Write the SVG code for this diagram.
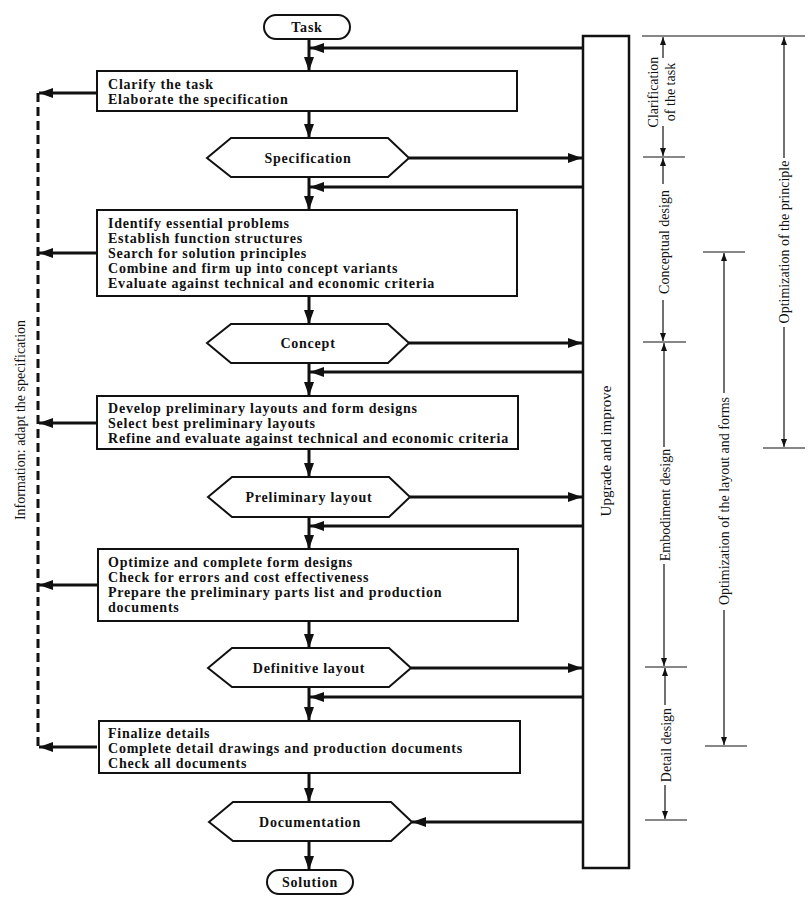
<svg xmlns="http://www.w3.org/2000/svg" width="810" height="900" viewBox="0 0 810 900">
<defs>
<marker id="ah" markerUnits="userSpaceOnUse" markerWidth="15" markerHeight="10" refX="14" refY="5" orient="auto"><path d="M0,0 L14,5 L0,10 z" fill="#111"/></marker>
<marker id="sh" markerUnits="userSpaceOnUse" markerWidth="9" markerHeight="7" refX="8" refY="3" orient="auto"><path d="M0,0 L8,3 L0,6 z" fill="#111"/></marker>
<style>
.box{fill:#fff;stroke:#111;stroke-width:2}
.t{font-family:"Liberation Serif",serif;font-size:14px;letter-spacing:0.78px;font-weight:bold;fill:#111}
.c{text-anchor:middle}
.lbl{font-family:"Liberation Serif",serif;font-size:14px;fill:#111;text-anchor:middle;dominant-baseline:central}
.fl{stroke:#111;stroke-width:3;fill:none}
.fa{stroke:#111;stroke-width:3;fill:none;marker-end:url(#ah)}
.dim{stroke:#111;stroke-width:1.2;fill:none}
.da{stroke:#111;stroke-width:1.2;fill:none;marker-end:url(#sh)}
</style>
</defs>
<rect width="810" height="900" fill="#fff"/>

<g id="connectors">
<!-- main downward flow -->
<line class="fa" x1="309" y1="39" x2="309" y2="71"/>
<line class="fa" x1="309" y1="111" x2="309" y2="138"/>
<line class="fa" x1="309" y1="177" x2="309" y2="210"/>
<line class="fa" x1="309" y1="296" x2="309" y2="324"/>
<line class="fa" x1="309" y1="363" x2="309" y2="396"/>
<line class="fa" x1="309" y1="449" x2="309" y2="477"/>
<line class="fa" x1="309" y1="517" x2="309" y2="549"/>
<line class="fa" x1="309" y1="621" x2="309" y2="648"/>
<line class="fa" x1="309" y1="687" x2="309" y2="721"/>
<line class="fa" x1="309" y1="773" x2="309" y2="802"/>
<line class="fa" x1="309" y1="841" x2="309" y2="870"/>
<!-- feedback from upgrade box -->
<line class="fa" x1="583" y1="48" x2="310" y2="48"/>
<line class="fa" x1="583" y1="187" x2="310" y2="187"/>
<line class="fa" x1="583" y1="372" x2="310" y2="372"/>
<line class="fa" x1="583" y1="526" x2="310" y2="526"/>
<line class="fa" x1="583" y1="697" x2="310" y2="697"/>
<line class="fa" x1="583" y1="822" x2="412" y2="822"/>
<!-- results to upgrade box -->
<line class="fa" x1="409" y1="158" x2="582" y2="158"/>
<line class="fa" x1="409" y1="343" x2="582" y2="343"/>
<line class="fa" x1="410" y1="497" x2="582" y2="497"/>
<line class="fa" x1="411" y1="668" x2="582" y2="668"/>
<!-- information feedback -->
<line x1="38" y1="93" x2="38" y2="747" stroke="#111" stroke-width="3" stroke-dasharray="9,5"/>
<line class="fa" x1="97" y1="93" x2="39" y2="93"/>
<line class="fa" x1="97" y1="253" x2="39" y2="253"/>
<line class="fa" x1="97" y1="423" x2="39" y2="423"/>
<line class="fa" x1="97" y1="585" x2="39" y2="585"/>
<line class="fa" x1="97" y1="747" x2="39" y2="747"/>
</g>

<g id="task">
<rect class="box" x="264" y="15" width="86" height="24" rx="12"/>
<text class="t c" x="307" y="32">Task</text>
</g>

<g id="clarify">
<rect class="box" x="97" y="71" width="420" height="40"/>
<text class="t" x="108" y="89">Clarify the task</text>
<text class="t" x="108" y="104">Elaborate the specification</text>
</g>

<g id="specification">
<polygon class="box" points="207,158 231,138 388,138 409,158 388,177 231,177"/>
<text class="t c" x="308" y="163">Specification</text>
</g>

<g id="conceptual">
<rect class="box" x="97" y="210" width="420" height="86"/>
<text class="t" x="108" y="228">Identify essential problems</text>
<text class="t" x="108" y="243">Establish function structures</text>
<text class="t" x="108" y="258">Search for solution principles</text>
<text class="t" x="108" y="273">Combine and firm up into concept variants</text>
<text class="t" x="108" y="288">Evaluate against technical and economic criteria</text>
</g>

<g id="concept">
<polygon class="box" points="207,343 231,324 388,324 409,343 388,363 231,363"/>
<text class="t c" x="308" y="348">Concept</text>
</g>

<g id="prelim-work">
<rect class="box" x="97" y="396" width="421" height="53"/>
<text class="t" x="108" y="413">Develop preliminary layouts and form designs</text>
<text class="t" x="108" y="428">Select best preliminary layouts</text>
<text class="t" x="108" y="443">Refine and evaluate against technical and economic criteria</text>
</g>

<g id="prelim-layout">
<polygon class="box" points="208,497 232,477 389,477 410,497 389,517 232,517"/>
<text class="t c" x="309" y="502">Preliminary layout</text>
</g>

<g id="optimize">
<rect class="box" x="98" y="549" width="420" height="72"/>
<text class="t" x="108" y="567">Optimize and complete form designs</text>
<text class="t" x="108" y="582">Check for errors and cost effectiveness</text>
<text class="t" x="108" y="597">Prepare the preliminary parts list and production</text>
<text class="t" x="108" y="612">documents</text>
</g>

<g id="definitive-layout">
<polygon class="box" points="208,668 232,648 389,648 411,668 389,687 232,687"/>
<text class="t c" x="309" y="673">Definitive layout</text>
</g>

<g id="finalize">
<rect class="box" x="99" y="721" width="421" height="52"/>
<text class="t" x="108" y="738">Finalize details</text>
<text class="t" x="108" y="753">Complete detail drawings and production documents</text>
<text class="t" x="108" y="768">Check all documents</text>
</g>

<g id="documentation">
<polygon class="box" points="209,822 233,802 391,802 412,822 391,841 233,841"/>
<text class="t c" x="310" y="827">Documentation</text>
</g>

<g id="solution">
<rect class="box" x="267" y="870" width="86" height="24" rx="12"/>
<text class="t c" x="310" y="887">Solution</text>
</g>

<g id="upgrade">
<rect x="583" y="36" width="46" height="832" fill="#fff" stroke="#111" stroke-width="2.5"/>
<text class="lbl" x="606" y="451" transform="rotate(-90 606 451)" style="font-size:15px">Upgrade and improve</text>
</g>

<g id="info-label">
<text class="lbl" x="20" y="420" transform="rotate(-90 20 420)">Information: adapt the specification</text>
</g>

<g id="phases">
<!-- ticks -->
<line class="dim" x1="642" y1="36" x2="805" y2="36"/>
<line class="dim" x1="643" y1="157" x2="685" y2="157"/>
<line class="dim" x1="643" y1="342" x2="686" y2="342"/>
<line class="dim" x1="645" y1="667" x2="687" y2="667"/>
<line class="dim" x1="645" y1="820" x2="687" y2="820"/>
<line class="dim" x1="703" y1="252" x2="745" y2="252"/>
<line class="dim" x1="705" y1="746" x2="747" y2="746"/>
<line class="dim" x1="763" y1="448" x2="805" y2="448"/>
<!-- clarification -->
<line class="da" x1="663" y1="58" x2="663" y2="37"/>
<line class="da" x1="663" y1="126" x2="663" y2="156"/>
<text class="lbl" x="653" y="92" transform="rotate(-90 653 92)">Clarification</text>
<text class="lbl" x="670" y="92" transform="rotate(-90 670 92)">of the task</text>
<!-- conceptual -->
<line class="da" x1="663" y1="184" x2="663" y2="158"/>
<line class="da" x1="663" y1="300" x2="663" y2="341"/>
<text class="lbl" x="664" y="242" transform="rotate(-90 664 242)">Conceptual design</text>
<!-- embodiment -->
<line class="da" x1="664" y1="447" x2="664" y2="343"/>
<line class="da" x1="664" y1="564" x2="664" y2="666"/>
<text class="lbl" x="665" y="505" transform="rotate(-90 665 505)">Embodiment design</text>
<!-- detail -->
<line class="da" x1="665" y1="705" x2="665" y2="668"/>
<line class="da" x1="665" y1="785" x2="665" y2="819"/>
<text class="lbl" x="666" y="745" transform="rotate(-90 666 745)">Detail design</text>
<!-- optimization layout -->
<line class="da" x1="724" y1="393" x2="724" y2="253"/>
<line class="da" x1="724" y1="610" x2="724" y2="745"/>
<text class="lbl" x="724" y="501" transform="rotate(-90 724 501)">Optimization of the layout and forms</text>
<!-- optimization principle -->
<line class="da" x1="784" y1="158" x2="784" y2="37"/>
<line class="da" x1="784" y1="327" x2="784" y2="447"/>
<text class="lbl" x="784" y="242" transform="rotate(-90 784 242)">Optimization of the principle</text>
</g>
</svg>
